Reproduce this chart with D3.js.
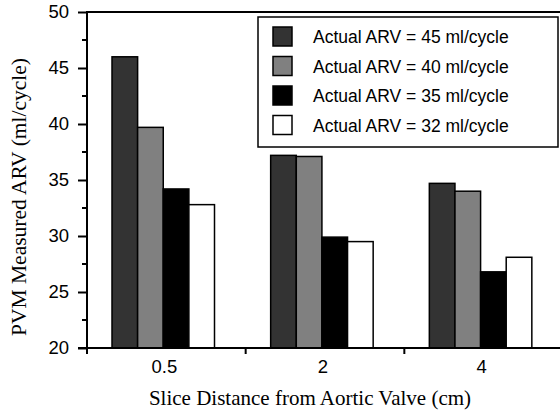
<!DOCTYPE html>
<html>
<head>
<meta charset="utf-8">
<script src="https://cdnjs.cloudflare.com/ajax/libs/d3/7.8.5/d3.min.js"></script>
<style>
  body { margin: 0; background: #fff; }
</style>
</head>
<body>
<div id="chart"></div>
<script>
  // data
  var distances = ["0.5", "2", "4"];
  var seriesNames = ["Actual ARV = 45 ml/cycle", "Actual ARV = 40 ml/cycle",
                     "Actual ARV = 35 ml/cycle", "Actual ARV = 32 ml/cycle"];
  var arv45 = [46.0, 37.2, 34.7];
  var arv40 = [39.7, 37.1, 34.0];
  var arv35 = [34.2, 29.9, 26.8];
  var arv32 = [32.8, 29.5, 28.1];
  var yTicks = [20, 25, 30, 35, 40, 45, 50];
  var fills = ["#333333", "#808080", "#000000", "#ffffff"];

  var allSeries = [arv45, arv40, arv35, arv32];

  var W = 560, H = 410;
  // plot edges (window.top is read-only, so avoid "top" as a name)
  var pL = 87, pR = 563, pT = 12, pB = 348;

  var svg = d3.select("#chart").append("svg")
      .attr("width", W)
      .attr("height", H);

  var x0 = d3.scaleBand().domain(distances).range([pL, pR]);
  // bars sit in the left part of each band
  var x1 = d3.scaleBand().domain(d3.range(seriesNames.length)).range([25, 127.5]);
  var y = d3.scaleLinear().domain([20, 50]).range([pB, pT]);

  // bars
  var groups = svg.selectAll("g.grp")
      .data(distances)
      .enter().append("g")
      .attr("class", "grp")
      .attr("transform", function (d) { return "translate(" + x0(d) + ",0)"; });

  groups.selectAll("rect")
      .data(function (d, i) { return allSeries.map(function (s, k) { return { k: k, v: s[i] }; }); })
      .enter().append("rect")
      .attr("x", function (d) { return x1(d.k); })
      .attr("width", x1.bandwidth())
      .attr("y", function (d) { return y(d.v); })
      .attr("height", function (d) { return y(20) - y(d.v); })
      .style("fill", function (d) { return fills[d.k]; })
      .style("stroke", "#000")
      .style("stroke-width", 1.5);

  // frame top line
  svg.append("line")
      .attr("x1", pL).attr("x2", W)
      .attr("y1", pT).attr("y2", pT)
      .style("stroke", "#000").style("stroke-width", 2);

  // y axis
  var yAxis = d3.axisLeft(y).tickValues(yTicks).tickSize(9).tickPadding(9);
  var gy = svg.append("g").attr("transform", "translate(" + pL + ",0)").call(yAxis);
  gy.select(".domain").remove();
  gy.selectAll(".tick line").style("stroke", "#000").style("stroke-width", 2);
  gy.selectAll("text")
      .style("font-family", "'Liberation Sans', Arial, sans-serif")
      .style("font-size", "18.5px")
      .style("fill", "#000");
  // minor ticks
  svg.selectAll("line.minor")
      .data(d3.range(22.5, 50, 5))
      .enter().append("line")
      .attr("class", "minor")
      .attr("x1", pL - 5).attr("x2", pL)
      .attr("y1", function (d) { return y(d); })
      .attr("y2", function (d) { return y(d); })
      .style("stroke", "#000").style("stroke-width", 2);
  svg.append("line")
      .attr("x1", pL).attr("x2", pL)
      .attr("y1", pT - 1).attr("y2", pB + 1)
      .style("stroke", "#000").style("stroke-width", 2);

  // x axis
  svg.append("line")
      .attr("x1", pL - 9).attr("x2", W)
      .attr("y1", pB).attr("y2", pB)
      .style("stroke", "#000").style("stroke-width", 2);
  svg.selectAll("line.xtick")
      .data(distances)
      .enter().append("line")
      .attr("class", "xtick")
      .attr("x1", function (d) { return x0(d); })
      .attr("x2", function (d) { return x0(d); })
      .attr("y1", pB).attr("y2", pB + 6)
      .style("stroke", "#000").style("stroke-width", 2);
  svg.selectAll("text.xlab")
      .data(distances)
      .enter().append("text")
      .attr("class", "xlab")
      .attr("x", function (d) { return x0(d) + x0.bandwidth() / 2 - 2; })
      .attr("y", 373)
      .attr("text-anchor", "middle")
      .style("font-family", "'Liberation Sans', Arial, sans-serif")
      .style("font-size", "18.5px")
      .text(function (d) { return d; });

  // axis titles
  svg.append("text")
      .attr("x", 310)
      .attr("y", 405)
      .attr("text-anchor", "middle")
      .style("font-family", "'Liberation Serif', 'Times New Roman', serif")
      .style("font-size", "21px")
      .text("Slice Distance from Aortic Valve (cm)");
  svg.append("text")
      .attr("transform", "translate(26,197) rotate(-90)")
      .attr("text-anchor", "middle")
      .style("font-family", "'Liberation Serif', 'Times New Roman', serif")
      .style("font-size", "21.5px")
      .text("PVM Measured ARV (ml/cycle)");

  // legend
  var legend = svg.append("g").attr("transform", "translate(258,17)");
  legend.append("rect")
      .attr("width", 300).attr("height", 130)
      .style("fill", "#fff").style("stroke", "#000").style("stroke-width", 1.5);
  var rows = legend.selectAll("g.row")
      .data(seriesNames)
      .enter().append("g")
      .attr("class", "row")
      .attr("transform", function (d, i) { return "translate(15," + (10 + i * 29.5) + ")"; });
  rows.append("rect")
      .attr("width", 19).attr("height", 19)
      .style("fill", function (d, i) { return fills[i]; })
      .style("stroke", "#000").style("stroke-width", 1.5);
  rows.append("text")
      .attr("x", 40)
      .attr("y", 16)
      .style("font-family", "'Liberation Sans', Arial, sans-serif")
      .style("font-size", "17.5px")
      .text(function (d) { return d; });
</script>
</body>
</html>
